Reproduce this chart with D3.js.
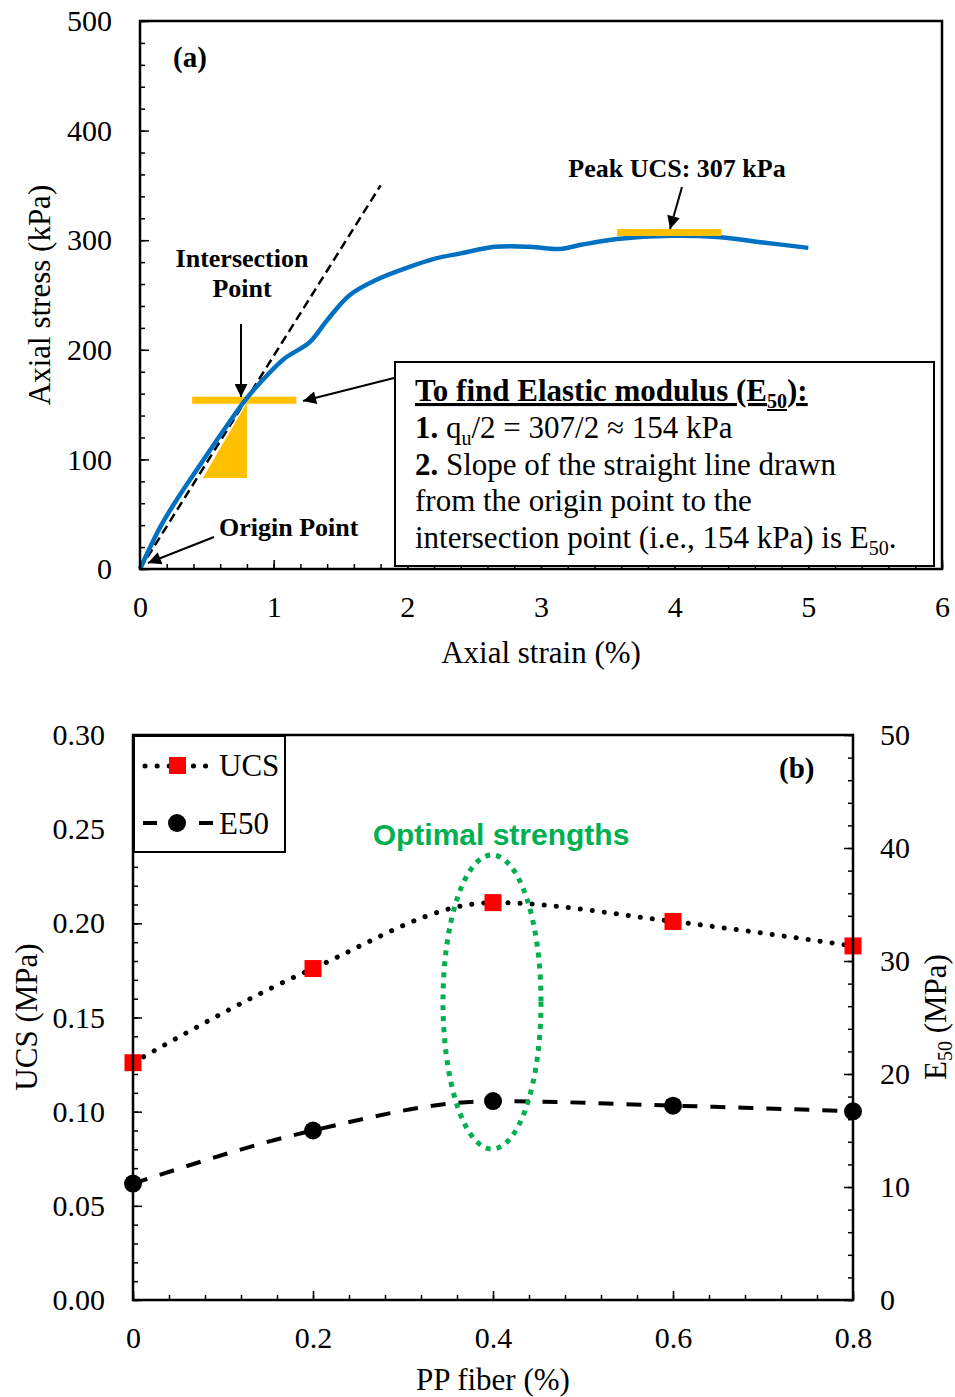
<!DOCTYPE html>
<html>
<head>
<meta charset="utf-8">
<script src="https://cdn.jsdelivr.net/npm/d3@7"></script>
<style>
    body { margin: 0; background: #fff; }
    text { font-family: "Liberation Serif", "Times New Roman", serif; fill: #000; }
</style>
</head>
<body>
<svg id="chart" width="955" height="1397"></svg>
<script>
// (a) stress-strain curve
const strain = [0, 0.15, 0.3, 0.45, 0.6, 0.78, 0.87, 1.07, 1.27, 1.4, 1.57, 1.77, 2.0, 2.2, 2.4, 2.66, 2.92, 3.14, 3.31, 3.57, 3.96, 4.32, 4.66, 5.0];
const stress = [0, 38, 68, 95, 122, 153, 166, 191, 207, 227, 250, 264, 275, 283, 288, 294, 294, 292, 296, 301, 304, 303, 298, 293];
const tangentStrain = [0, 1.8];
const tangentStress = [0, 350];
const peakUcs = 307;
const halfUcs = 154;
const strainTicks = [0, 1, 2, 3, 4, 5, 6];
const stressTicks = [0, 100, 200, 300, 400, 500];

// (b) UCS and E50 vs fibre content
const fiber = [0, 0.2, 0.4, 0.6, 0.8];
const ucs = [0.126, 0.176, 0.211, 0.201, 0.188];
const e50 = [10.3, 15.0, 17.6, 17.2, 16.7];
const fiberTicks = [0, 0.2, 0.4, 0.6, 0.8];
const ucsTicks = [0, 0.05, 0.10, 0.15, 0.20, 0.25, 0.30];
const e50Ticks = [0, 10, 20, 30, 40, 50];

const svg = d3.select("#chart");
const orange = "#FFC000";

svg.append("defs").append("marker")
    .attr("id", "arrow")
    .attr("viewBox", "0 0 10 10")
    .attr("refX", 10)
    .attr("refY", 5)
    .attr("markerUnits", "userSpaceOnUse")
    .attr("markerWidth", 15)
    .attr("markerHeight", 13)
    .attr("orient", "auto")
    .append("path")
    .attr("d", "M0,0L10,5L0,10z")
    .attr("fill", "#000");

function drawAxis(axisFn, scale, major, minorStep, fmt, translate, pad) {
    let ext = scale.domain();
    let minor = d3.range(ext[0], ext[1] + minorStep / 2, minorStep);
    let gMinor = svg.append("g")
        .attr("transform", translate)
        .call(axisFn(scale).tickValues(minor).tickSize(-5).tickFormat(""));
    let gMajor = svg.append("g")
        .attr("transform", translate)
        .call(axisFn(scale).tickValues(major).tickSize(-9).tickPadding(pad).tickFormat(fmt))
        .attr("font-family", "Liberation Serif, Times New Roman, serif")
        .attr("font-size", 30);
    [gMinor, gMajor].forEach(g => {
        g.select(".domain").remove();
        g.selectAll("line").attr("stroke", "#000").attr("stroke-width", 1.5);
    });
    gMajor.selectAll("text").attr("fill", "#000");
}

function arrow(x1, y1, x2, y2) {
    svg.append("line")
        .attr("x1", x1).attr("y1", y1)
        .attr("x2", x2).attr("y2", y2)
        .attr("stroke", "#000")
        .attr("stroke-width", 2)
        .attr("marker-end", "url(#arrow)");
}

// ---------- chart (a) ----------
let xA = d3.scaleLinear().domain([0, 6]).range([140, 942]);
let yA = d3.scaleLinear().domain([0, 500]).range([569, 21]);

drawAxis(d3.axisBottom, xA, strainTicks, 0.2, d3.format("d"), "translate(0,569)", 27);
drawAxis(d3.axisLeft, yA, stressTicks, 20, d3.format("d"), "translate(140,0)", 28);

// orange triangle and bars
let tri = [[0.47, 83], [0.80, 83], [0.80, 152]];
svg.append("path")
    .attr("d", "M" + tri.map(d => [xA(d[0]), yA(d[1])].join(",")).join("L") + "Z")
    .attr("fill", orange);
svg.append("line")
    .attr("x1", xA(0.39)).attr("x2", xA(1.17))
    .attr("y1", yA(halfUcs)).attr("y2", yA(halfUcs))
    .attr("stroke", orange)
    .attr("stroke-width", 7);

// tangent line
svg.append("line")
    .attr("x1", xA(tangentStrain[0])).attr("y1", yA(tangentStress[0]))
    .attr("x2", xA(tangentStrain[1])).attr("y2", yA(tangentStress[1]))
    .attr("stroke", "#000")
    .attr("stroke-width", 2.5)
    .attr("stroke-dasharray", "9,5");

let curveLine = d3.line()
    .x((d, i) => xA(strain[i]))
    .y(d => yA(d))
    .curve(d3.curveCatmullRom.alpha(0.5));
svg.append("path")
    .attr("d", curveLine(stress))
    .attr("fill", "none")
    .attr("stroke", "#0070C0")
    .attr("stroke-width", 4.5);

svg.append("line")
    .attr("x1", xA(3.57)).attr("x2", xA(4.35))
    .attr("y1", yA(peakUcs)).attr("y2", yA(peakUcs))
    .attr("stroke", orange)
    .attr("stroke-width", 7);

svg.append("rect")
    .attr("x", 140).attr("y", 21)
    .attr("width", 802).attr("height", 548)
    .attr("fill", "none")
    .attr("stroke", "#000")
    .attr("stroke-width", 2.5);

svg.append("text")
    .attr("x", 173).attr("y", 67)
    .attr("font-size", 29)
    .attr("font-weight", "bold")
    .text("(a)");

svg.append("text")
    .attr("x", 677).attr("y", 177)
    .attr("text-anchor", "middle")
    .attr("font-size", 26)
    .attr("font-weight", "bold")
    .text("Peak UCS: 307 kPa");
arrow(682, 187, 670, 229);

svg.append("text")
    .attr("text-anchor", "middle")
    .attr("font-size", 26)
    .attr("font-weight", "bold")
    .selectAll("tspan")
    .data(["Intersection", "Point"])
    .join("tspan")
    .attr("x", 242)
    .attr("y", (d, i) => 267 + i * 30)
    .text(d => d);
arrow(241, 324, 241, 397);

svg.append("text")
    .attr("x", 219).attr("y", 536)
    .attr("font-size", 26)
    .attr("font-weight", "bold")
    .text("Origin Point");
arrow(214, 537, 148, 563);

// explanation box
svg.append("rect")
    .attr("x", 395).attr("y", 362)
    .attr("width", 539).attr("height", 204)
    .attr("fill", "#fff")
    .attr("stroke", "#000")
    .attr("stroke-width", 2);
arrow(394, 378, 303, 401);

let t1 = svg.append("text")
    .attr("x", 415).attr("y", 401)
    .attr("font-size", 31)
    .attr("font-weight", "bold")
    .attr("text-decoration", "underline");
t1.append("tspan").text("To find Elastic modulus (E");
t1.append("tspan").attr("font-size", 20).attr("dy", 7).text("50");
t1.append("tspan").attr("dy", -7).text("):");

let t2 = svg.append("text")
    .attr("x", 415).attr("y", 438)
    .attr("font-size", 31);
t2.append("tspan").attr("font-weight", "bold").text("1.");
t2.append("tspan").text(" q");
t2.append("tspan").attr("font-size", 20).attr("dy", 7).text("u");
t2.append("tspan").attr("dy", -7).text("/2 = 307/2 \u2248 154 kPa");

let t3 = svg.append("text")
    .attr("x", 415).attr("y", 475)
    .attr("font-size", 31);
t3.append("tspan").attr("font-weight", "bold").text("2.");
t3.append("tspan").text(" Slope of the straight line drawn");

svg.append("text")
    .attr("x", 415).attr("y", 511)
    .attr("font-size", 31)
    .text("from the origin point to the");

let t5 = svg.append("text")
    .attr("x", 415).attr("y", 548)
    .attr("font-size", 31);
t5.append("tspan").text("intersection point (i.e., 154 kPa) is E");
t5.append("tspan").attr("font-size", 20).attr("dy", 7).text("50");
t5.append("tspan").attr("dy", -7).text(".");

svg.append("text")
    .attr("x", 541).attr("y", 663)
    .attr("text-anchor", "middle")
    .attr("font-size", 31)
    .text("Axial strain (%)");
svg.append("text")
    .attr("transform", "translate(50,295) rotate(-90)")
    .attr("text-anchor", "middle")
    .attr("font-size", 31)
    .text("Axial stress (kPa)");

// ---------- chart (b) ----------
let xB = d3.scaleLinear().domain([0, 0.8]).range([133, 853]);
let yL = d3.scaleLinear().domain([0, 0.3]).range([1300, 735]);
let yR = d3.scaleLinear().domain([0, 50]).range([1300, 735]);

drawAxis(d3.axisBottom, xB, fiberTicks, 0.04, d => d === 0 ? "0" : d3.format(".1f")(d), "translate(0,1300)", 27);
drawAxis(d3.axisLeft, yL, ucsTicks, 0.01, d3.format(".2f"), "translate(133,0)", 28);
drawAxis(d3.axisRight, yR, e50Ticks, 2, d3.format("d"), "translate(853,0)", 27);

let smooth = d3.curveMonotoneX;
svg.append("path")
    .attr("d", d3.line().x((d, i) => xB(fiber[i])).y(d => yL(d)).curve(smooth)(ucs))
    .attr("fill", "none")
    .attr("stroke", "#000")
    .attr("stroke-width", 5)
    .attr("stroke-linecap", "round")
    .attr("stroke-dasharray", "0.1,12");
svg.append("path")
    .attr("d", d3.line().x((d, i) => xB(fiber[i])).y(d => yR(d)).curve(smooth)(e50))
    .attr("fill", "none")
    .attr("stroke", "#000")
    .attr("stroke-width", 4)
    .attr("stroke-dasharray", "15,13");

svg.append("g")
    .selectAll("rect")
    .data(ucs)
    .join("rect")
    .attr("x", (d, i) => xB(fiber[i]) - 8.5)
    .attr("y", d => yL(d) - 8.5)
    .attr("width", 17)
    .attr("height", 17)
    .attr("fill", "#FF0000");
svg.append("g")
    .selectAll("circle")
    .data(e50)
    .join("circle")
    .attr("cx", (d, i) => xB(fiber[i]))
    .attr("cy", d => yR(d))
    .attr("r", 9)
    .attr("fill", "#000");

svg.append("ellipse")
    .attr("cx", 492).attr("cy", 1002)
    .attr("rx", 49).attr("ry", 147)
    .attr("fill", "none")
    .attr("stroke", "#00B050")
    .attr("stroke-width", 5)
    .attr("stroke-dasharray", "5,6");
svg.append("text")
    .attr("x", 501).attr("y", 845)
    .attr("text-anchor", "middle")
    .style("font-family", "'Liberation Sans', Arial, sans-serif")
    .style("fill", "#00B050")
    .attr("font-size", 30)
    .attr("font-weight", "bold")
    .text("Optimal strengths");

svg.append("rect")
    .attr("x", 133).attr("y", 735)
    .attr("width", 720).attr("height", 565)
    .attr("fill", "none")
    .attr("stroke", "#000")
    .attr("stroke-width", 2.5);

svg.append("text")
    .attr("x", 779).attr("y", 778)
    .attr("font-size", 29)
    .attr("font-weight", "bold")
    .text("(b)");

// legend
let legend = svg.append("g");
legend.append("rect")
    .attr("x", 134).attr("y", 736)
    .attr("width", 151).attr("height", 116)
    .attr("fill", "#fff")
    .attr("stroke", "#000")
    .attr("stroke-width", 2);
legend.append("line")
    .attr("x1", 145).attr("x2", 210)
    .attr("y1", 766).attr("y2", 766)
    .attr("stroke", "#000")
    .attr("stroke-width", 5)
    .attr("stroke-linecap", "round")
    .attr("stroke-dasharray", "0.1,12");
legend.append("rect")
    .attr("x", 169).attr("y", 757)
    .attr("width", 17).attr("height", 17)
    .attr("fill", "#FF0000");
legend.append("line")
    .attr("x1", 143).attr("x2", 213)
    .attr("y1", 823).attr("y2", 823)
    .attr("stroke", "#000")
    .attr("stroke-width", 4)
    .attr("stroke-dasharray", "14,42");
legend.append("circle")
    .attr("cx", 177).attr("cy", 823)
    .attr("r", 9)
    .attr("fill", "#000");
legend.append("text")
    .attr("x", 219).attr("y", 776)
    .attr("font-size", 31)
    .text("UCS");
legend.append("text")
    .attr("x", 219).attr("y", 834)
    .attr("font-size", 31)
    .text("E50");

svg.append("text")
    .attr("x", 493).attr("y", 1390)
    .attr("text-anchor", "middle")
    .attr("font-size", 31)
    .text("PP fiber (%)");
svg.append("text")
    .attr("transform", "translate(37,1017) rotate(-90)")
    .attr("text-anchor", "middle")
    .attr("font-size", 31)
    .text("UCS (MPa)");
let rl = svg.append("text")
    .attr("transform", "translate(946,1017) rotate(-90)")
    .attr("text-anchor", "middle")
    .attr("font-size", 31);
rl.append("tspan").text("E");
rl.append("tspan").attr("font-size", 20).attr("dy", 6).text("50");
rl.append("tspan").attr("dy", -6).text(" (MPa)");
</script>
</body>
</html>
